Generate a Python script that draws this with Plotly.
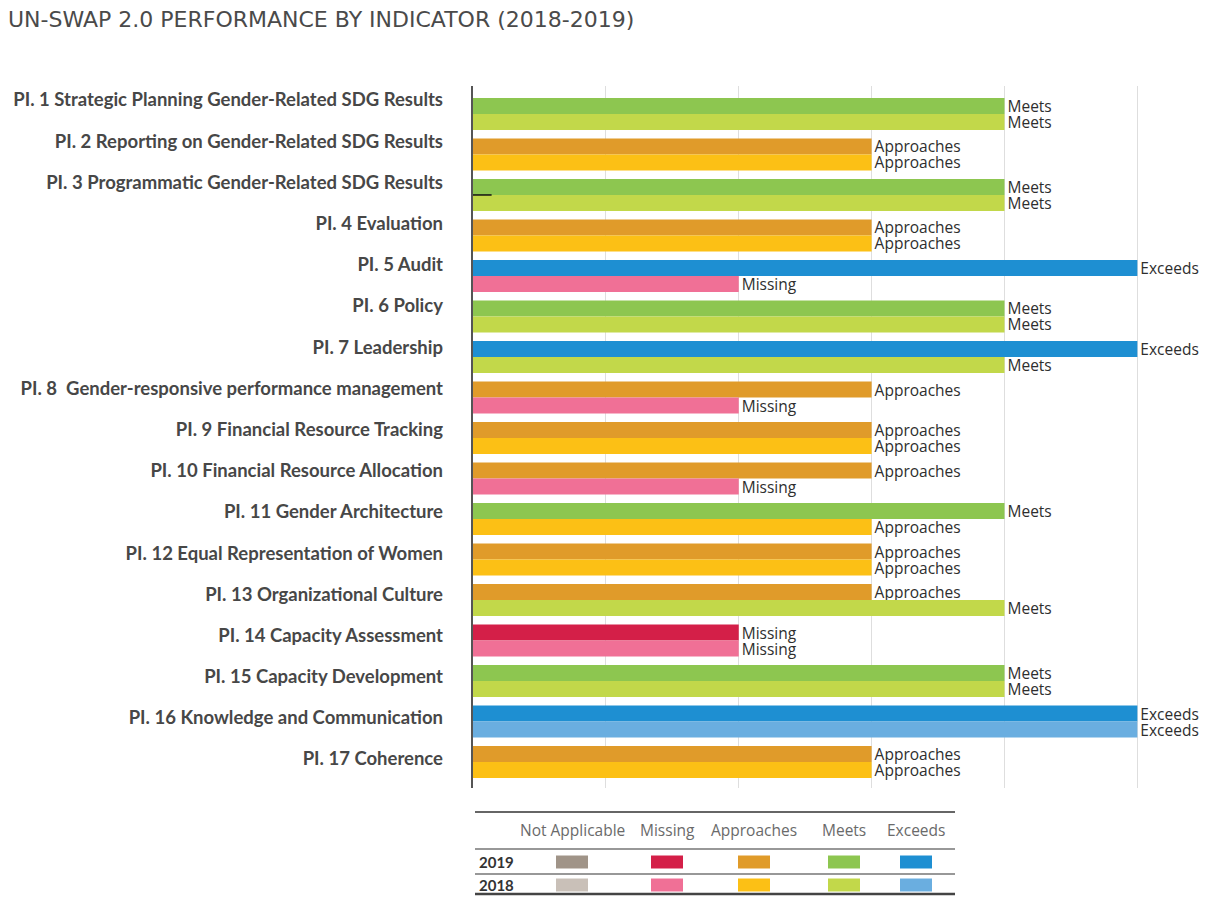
import plotly.graph_objects as go

# ---------------- data ----------------
indicators = [
    "PI. 1 Strategic Planning Gender-Related SDG Results",
    "PI. 2 Reporting on Gender-Related SDG Results",
    "PI. 3 Programmatic Gender-Related SDG Results",
    "PI. 4 Evaluation",
    "PI. 5 Audit",
    "PI. 6 Policy",
    "PI. 7 Leadership",
    "PI. 8  Gender-responsive performance management",
    "PI. 9 Financial Resource Tracking",
    "PI. 10 Financial Resource Allocation",
    "PI. 11 Gender Architecture",
    "PI. 12 Equal Representation of Women",
    "PI. 13 Organizational Culture",
    "PI. 14 Capacity Assessment",
    "PI. 15 Capacity Development",
    "PI. 16 Knowledge and Communication",
    "PI. 17 Coherence",
]
rating_2019 = ["Meets", "Approaches", "Meets", "Approaches", "Exceeds", "Meets", "Exceeds",
               "Approaches", "Approaches", "Approaches", "Meets", "Approaches", "Approaches",
               "Missing", "Meets", "Exceeds", "Approaches"]
rating_2018 = ["Meets", "Approaches", "Meets", "Approaches", "Missing", "Meets", "Meets",
               "Missing", "Approaches", "Missing", "Approaches", "Approaches", "Meets",
               "Missing", "Meets", "Exceeds", "Approaches"]
levels = ["Not Applicable", "Missing", "Approaches", "Meets", "Exceeds"]
level_scores = [1, 2, 3, 4, 5]
years = ["2019", "2018"]
colors_2019 = ["#a09488", "#d41f48", "#e09b2a", "#8dc650", "#1e8fd2"]
colors_2018 = ["#c9c0b8", "#f07096", "#fcc015", "#c2d84a", "#6aaee0"]

# ---------------- layout geometry ----------------
# the page body adds an 8px margin, so work in figure pixels = window pixels - 8
OFF = 8
W, H = 1213 - 2 * OFF, 904 - 2 * OFF
L, R, T, B = 473 - OFF, 1144 - OFF, 86 - OFF, 788 - OFF

score = dict(zip(levels, level_scores))
pal = {"2019": dict(zip(levels, colors_2019)), "2018": dict(zip(levels, colors_2018))}
ratings = {"2019": rating_2019, "2018": rating_2018}

fig = go.Figure()
for yr in years:
    rs = ratings[yr]
    fig.add_trace(go.Bar(
        y=indicators, x=[score[r] for r in rs], orientation="h",
        marker=dict(color=[pal[yr][r] for r in rs], line_width=0),
        text=rs, textposition="outside", constraintext="none", cliponaxis=False,
        textfont=dict(family="Open Sans", size=15.5, color="#2e2e2e"),
        name=yr, showlegend=False, hoverinfo="skip",
    ))

# dummy trace carrying the label axis
fig.add_trace(go.Scatter(x=[None], y=[None], yaxis="y2", showlegend=False, hoverinfo="skip"))


def xp(px):
    """reference window x pixel -> paper coordinate"""
    return (px - OFF - L) / (R - L)


def yp(py):
    """reference window y pixel -> paper coordinate"""
    return (B - (py - OFF)) / (B - T)


shapes = []
# small stray tick near PI 3
shapes.append(dict(type="line", xref="x", yref="y", x0=0, x1=0.14, y0=2, y1=2,
                   line=dict(color="#111", width=1.5)))
# legend table lines
for y, w, c in [(812, 1.6, "#333"), (849, 1.2, "#333"), (874, 1.2, "#333"), (894, 2.6, "#444")]:
    shapes.append(dict(type="line", xref="paper", yref="paper", x0=xp(475), x1=xp(955),
                       y0=yp(y), y1=yp(y), line=dict(color=c, width=w)))

annotations = []
col_centers = [572, 667, 754, 844, 916]
row_y = {"2019": 862, "2018": 885}
for lv, cx in zip(levels, col_centers):
    annotations.append(dict(text=lv, xref="paper", yref="paper", x=xp(cx), y=yp(830),
                            xanchor="center", yanchor="middle", showarrow=False,
                            font=dict(family="Open Sans", size=15.5, color="#6a6a6a")))
    for yr in years:
        cy = row_y[yr]
        shapes.append(dict(type="rect", xref="paper", yref="paper",
                           x0=xp(cx - 16), x1=xp(cx + 16), y0=yp(cy - 6.5), y1=yp(cy + 6.5),
                           fillcolor=pal[yr][lv], line_width=0))
for yr in years:
    annotations.append(dict(text=yr, xref="paper", yref="paper", x=xp(477), y=yp(row_y[yr]),
                            xanchor="left", yanchor="middle", showarrow=False,
                            font=dict(family="Lato", size=15, color="#333", weight=700)))

fig.update_layout(
    width=W, height=H,
    margin=dict(l=L, r=W - R, t=T, b=H - B, pad=0, autoexpand=False),
    paper_bgcolor="white", plot_bgcolor="white",
    barmode="group", bargap=0.21, bargroupgap=0,
    title=dict(text="UN-SWAP 2.0 PERFORMANCE BY INDICATOR (2018-2019)",
               x=0, xanchor="left", y=1 - 11.5 / H, yanchor="middle", automargin=False,
               font=dict(family="DejaVu Sans", size=22, color="#4a4a4a")),
    xaxis=dict(range=[0, 5.05], tickvals=[1, 2, 3, 4, 5], showticklabels=False,
               showgrid=True, gridcolor="#dedede", gridwidth=1, zeroline=False,
               showline=False, ticks="", fixedrange=True, automargin=False),
    yaxis=dict(type="category", categoryorder="array", categoryarray=indicators,
               range=[16.64, -0.69], showticklabels=False, showgrid=False, zeroline=False,
               showline=True, linecolor="#555555", linewidth=1.5, ticks="", automargin=False),
    yaxis2=dict(overlaying="y", side="left", anchor="x", range=[16.704, -0.34],
                tickmode="array", tickvals=list(range(len(indicators))), ticktext=indicators,
                showgrid=False, zeroline=False, showline=False, ticks="",
                ticklabelstandoff=29, automargin=False,
                tickfont=dict(family="Lato", size=18.5, color="#474747", weight=700)),
    shapes=shapes, annotations=annotations,
)

fig.write_html("out.html")
